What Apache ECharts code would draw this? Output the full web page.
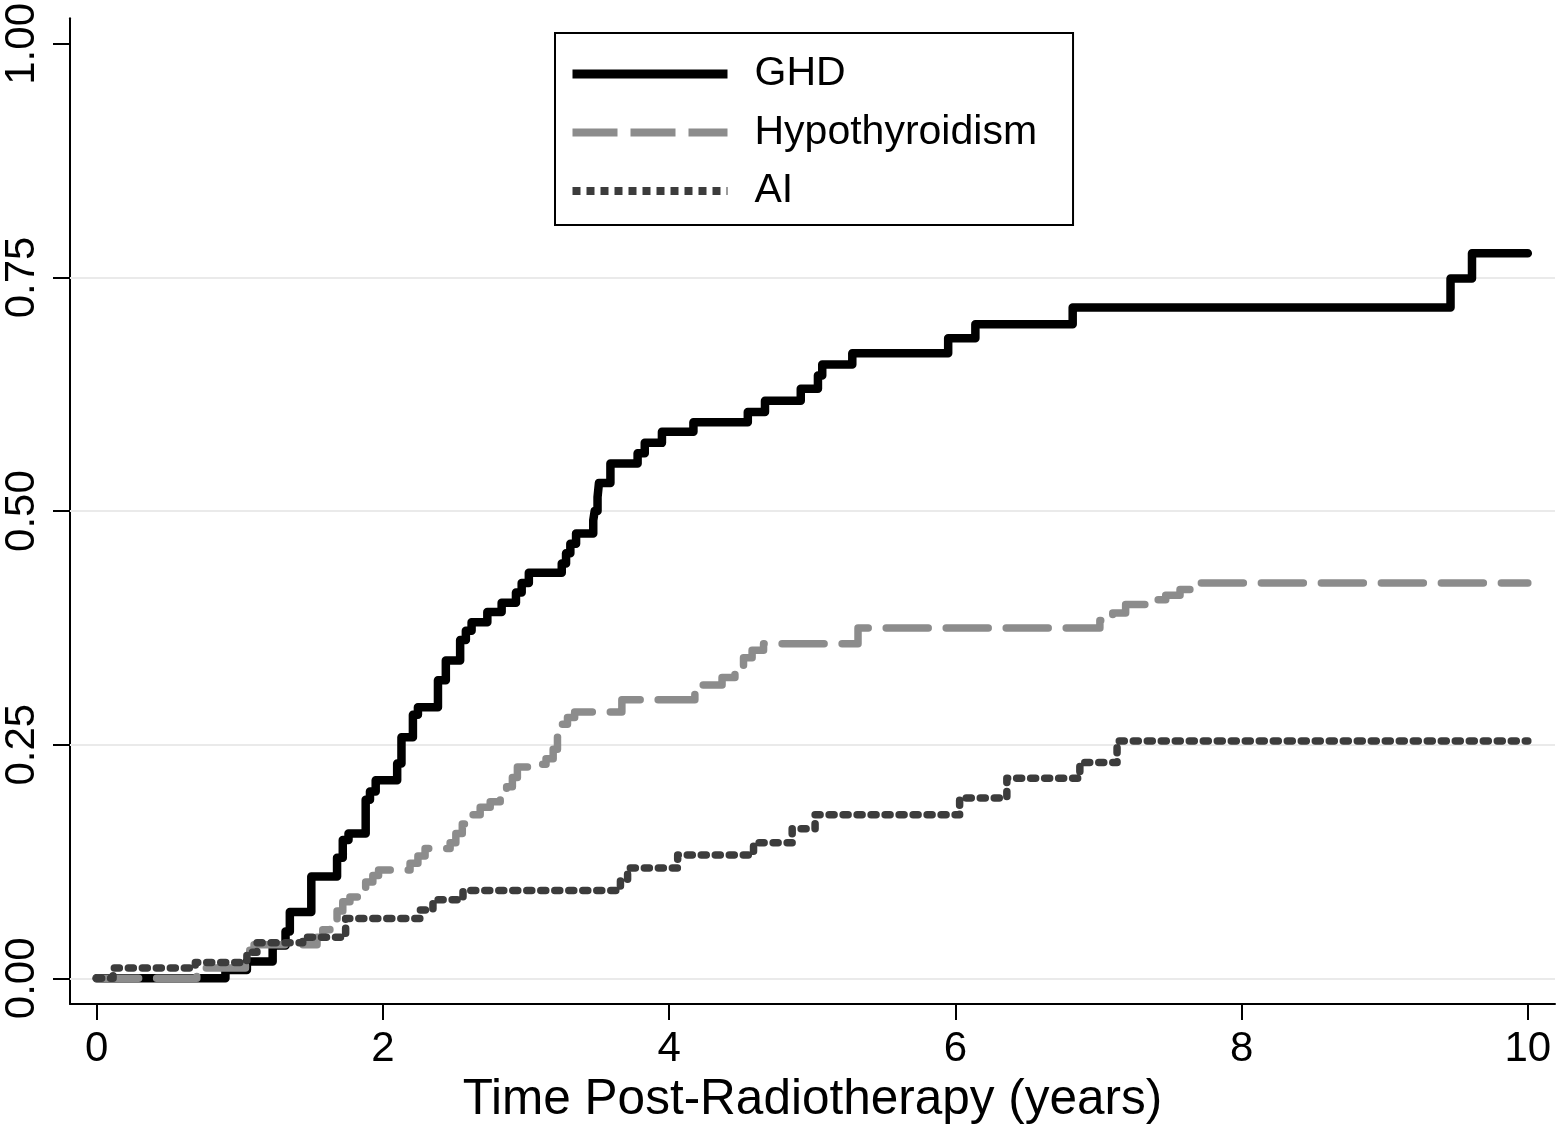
<!DOCTYPE html>
<html>
<head>
<meta charset="utf-8">
<script src="https://cdn.jsdelivr.net/npm/echarts@6/dist/echarts.min.js"></script>
<style>
html,body{margin:0;padding:0;background:#fff;}
#chart{width:1563px;height:1131px;}
</style>
</head>
<body>
<div id="chart"></div>
<script>
// Time (years) and cumulative incidence for each endpoint (step functions)
const seriesNames = ['GHD', 'Hypothyroidism', 'AI'];
const ghdT = [0, 0.90, 1.05, 1.23, 1.32, 1.35, 1.50, 1.68, 1.72, 1.76, 1.88, 1.91, 1.95, 2.10, 2.13, 2.21, 2.245, 2.385, 2.44, 2.54, 2.58, 2.62, 2.73, 2.83, 2.93, 2.97, 3.02, 3.25, 3.28, 3.31, 3.35, 3.47, 3.48, 3.50, 3.51, 3.59, 3.78, 3.83, 3.95, 4.17, 4.55, 4.67, 4.92, 5.04, 5.07, 5.28, 5.95, 6.14, 6.82, 9.46, 9.61, 10.0];
const ghdV = [0, 0.009, 0.018, 0.035, 0.05, 0.071, 0.109, 0.129, 0.148, 0.155, 0.191, 0.20, 0.212, 0.23, 0.258, 0.282, 0.29, 0.319, 0.34, 0.362, 0.372, 0.381, 0.392, 0.402, 0.413, 0.423, 0.434, 0.444, 0.455, 0.465, 0.476, 0.49, 0.50, 0.515, 0.53, 0.551, 0.562, 0.573, 0.585, 0.595, 0.606, 0.618, 0.631, 0.645, 0.657, 0.669, 0.685, 0.70, 0.718, 0.749, 0.776, 0.776];
const hypoT = [0, 0.70, 0.757, 1.04, 1.07, 1.10, 1.54, 1.58, 1.63, 1.68, 1.72, 1.77, 1.84, 1.88, 1.93, 1.97, 2.19, 2.245, 2.295, 2.47, 2.51, 2.555, 2.60, 2.68, 2.75, 2.82, 2.865, 2.905, 2.94, 3.08, 3.14, 3.19, 3.22, 3.25, 3.29, 3.34, 3.67, 4.18, 4.37, 4.46, 4.52, 4.58, 4.66, 5.32, 7.01, 7.10, 7.19, 7.33, 7.47, 7.57, 7.68, 10.0];
const hypoV = [0, 0.005, 0.011, 0.022, 0.03, 0.036, 0.044, 0.052, 0.062, 0.072, 0.082, 0.087, 0.095, 0.103, 0.11, 0.116, 0.123, 0.131, 0.139, 0.145, 0.155, 0.165, 0.175, 0.183, 0.189, 0.195, 0.205, 0.215, 0.226, 0.229, 0.235, 0.245, 0.258, 0.272, 0.279, 0.285, 0.298, 0.314, 0.322, 0.33, 0.343, 0.351, 0.358, 0.375, 0.383, 0.391, 0.40, 0.405, 0.41, 0.416, 0.423, 0.423];
const aiT = [0, 0.115, 0.69, 1.05, 1.12, 1.44, 1.74, 2.26, 2.35, 2.56, 3.66, 3.71, 4.06, 4.59, 4.86, 5.02, 6.03, 6.36, 6.87, 7.13, 10.0];
const aiV = [0, 0.011, 0.017, 0.028, 0.038, 0.044, 0.064, 0.073, 0.084, 0.094, 0.105, 0.118, 0.132, 0.145, 0.16, 0.175, 0.193, 0.214, 0.231, 0.254, 0.254];
const xTicks = [0, 2, 4, 6, 8, 10];
const yTicks = [0, 0.25, 0.5, 0.75, 1.0];
const yGrid = [0, 0.25, 0.5, 0.75];
const xTitle = 'Time Post-Radiotherapy (years)';

const zip = (t, v) => t.map((x, i) => [x, v[i]]);
const FONT = '"Liberation Sans", Arial, Helvetica, sans-serif';
const COLORS = ['#000000', '#8c8c8c', '#3c3c3c'];

const chart = echarts.init(document.getElementById('chart'), null, {renderer: 'canvas'});
chart.setOption({
  animation: false,
  backgroundColor: '#ffffff',
  textStyle: {fontFamily: FONT},
  grid: {left: 70, right: 8, top: 18, bottom: 127, containLabel: false},
  legend: {
    orient: 'vertical',
    left: 555, top: 33,
    padding: [20.5, 36, 13.5, 13],
    borderColor: '#000', borderWidth: 2,
    itemWidth: 155, itemHeight: 30, itemGap: 17.5,
    data: [
      {name: seriesNames[0], itemStyle: {opacity: 0}, lineStyle: {width: 9, type: 'solid', cap: 'butt', color: COLORS[0]}},
      {name: seriesNames[1], itemStyle: {opacity: 0}, lineStyle: {width: 8, type: [45, 13], cap: 'butt', color: COLORS[1]}},
      {name: seriesNames[2], itemStyle: {opacity: 0}, lineStyle: {width: 8, type: [8, 6], cap: 'butt', color: COLORS[2]}}
    ],
    textStyle: {fontSize: 41, color: '#000', fontFamily: FONT, padding: [0, 0, 0, 22]}
  },
  xAxis: {
    type: 'value', min: -0.186, max: 10.19,
    axisLine: {show: true, onZero: false, lineStyle: {color: '#000', width: 2}},
    axisTick: {show: true, length: 16, customValues: xTicks, lineStyle: {color: '#000', width: 2}},
    axisLabel: {customValues: xTicks, fontSize: 42, color: '#000', margin: 24, fontFamily: FONT},
    splitLine: {show: false},
    name: xTitle, nameLocation: 'middle', nameGap: 68,
    nameTextStyle: {fontSize: 49.5, color: '#000', fontFamily: FONT}
  },
  yAxis: {
    type: 'value', min: -0.0275, max: 1.0274,
    axisLine: {show: true, onZero: false, lineStyle: {color: '#000', width: 2}},
    axisTick: {show: true, length: 17, customValues: yTicks, lineStyle: {color: '#000', width: 2}},
    axisLabel: {customValues: yTicks, fontSize: 42, color: '#000', margin: 27, rotate: 90,
      fontFamily: FONT, formatter: v => v.toFixed(2)},
    splitLine: {show: false}
  },
  series: [
    {
      name: seriesNames[0], type: 'line', step: 'end', symbol: 'none', z: 3,
      data: zip(ghdT, ghdV),
      lineStyle: {color: COLORS[0], width: 8.5, cap: 'round', join: 'round'},
      itemStyle: {color: COLORS[0]},
      markLine: {
        silent: true, symbol: 'none', z: 1, animation: false,
        label: {show: false},
        lineStyle: {color: '#eaeaea', width: 2, type: 'solid'},
        data: yGrid.map(v => ({yAxis: v}))
      }
    },
    {
      name: seriesNames[1], type: 'line', step: 'end', symbol: 'none', z: 4,
      data: zip(hypoT, hypoV),
      lineStyle: {color: COLORS[1], width: 7.5, type: [42, 18], cap: 'round', join: 'round'},
      itemStyle: {color: COLORS[1]}
    },
    {
      name: seriesNames[2], type: 'line', step: 'end', symbol: 'none', z: 5,
      data: zip(aiT, aiV),
      lineStyle: {color: COLORS[2], width: 7.5, type: [5, 9], cap: 'round', join: 'round'},
      itemStyle: {color: COLORS[2]}
    }
  ]
});
</script>
</body>
</html>
